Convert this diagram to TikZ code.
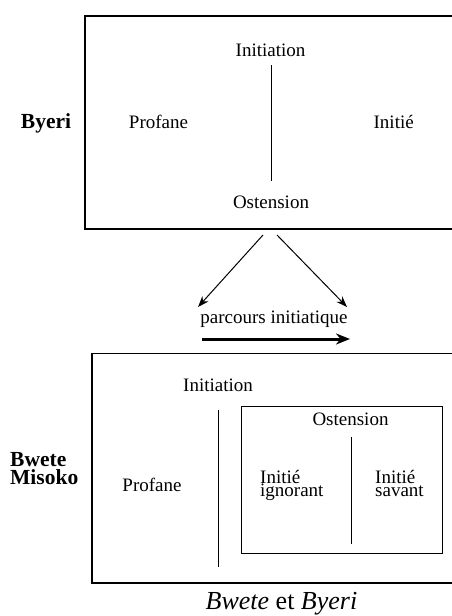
\documentclass[tikz,border=0pt]{standalone}
\usepackage{fontspec}
\setmainfont{Liberation Serif}
\usetikzlibrary{arrows.meta}
\begin{document}
\begin{tikzpicture}[x=1pt,y=-1pt,
  txt/.style={font=\fontsize{19}{19}\selectfont, inner sep=0pt, anchor=base},
  twoline/.style={font=\fontsize{19}{13.4}\selectfont, inner sep=0pt, align=left, anchor=base west},
  lbl/.style={font=\fontsize{21.5}{18}\selectfont\bfseries, inner sep=0pt},
  frame/.style={line width=1.4pt},
  divider/.style={line width=1.4pt},
  thin arrow/.style={line width=1pt, -{Stealth[length=11pt,width=8pt]}},
  thick arrow/.style={line width=3pt, -{Stealth[length=14pt,width=11pt]}}]
\useasboundingbox (0,0) rectangle (452,616);
% top box
\coordinate (t1) at (452,16);
\coordinate (t2) at (85,16);
\coordinate (t3) at (85,229);
\coordinate (t4) at (452,229);
\draw[frame] (t1) -- (t2) -- (t3) -- (t4);
\node[lbl, anchor=base] (byeri) at (46,128.3) {Byeri};
\node[txt] (init1) at (270.5,56.7) {Initiation};
\node[txt] (prof1) at (158.5,128.3) {Profane};
\node[txt] (initie1) at (393.7,128.3) {Initié};
\node[txt] (ost1) at (271,208) {Ostension};
\coordinate (v1a) at (271.7,65);
\coordinate (v1b) at (271.7,181);
\draw[divider] (v1a) -- (v1b);
% arrows
\coordinate (a1s) at (263,235);
\coordinate (a1e) at (198,307);
\coordinate (a2s) at (277,235);
\coordinate (a2e) at (347,307);
\draw[thin arrow] (a1s) -- (a1e);
\draw[thin arrow] (a2s) -- (a2e);
\node[txt] (parc) at (274,323) {parcours initiatique};
\coordinate (ta) at (202,339);
\coordinate (tb) at (350,339);
\draw[thick arrow] (ta) -- (tb);
% bottom box
\coordinate (b1) at (452,353.5);
\coordinate (b2) at (92,353.5);
\coordinate (b3) at (92,583);
\coordinate (b4) at (452,583);
\draw[frame] (b1) -- (b2) -- (b3) -- (b4);
\node[lbl, align=left, anchor=base west] (bwete) at (10,484) {Bwete\\Misoko};
\node[txt] (init2) at (218,391.7) {Initiation};
\coordinate (v2a) at (218.3,410);
\coordinate (v2b) at (218.3,567);
\draw[divider] (v2a) -- (v2b);
\node[txt] (prof2) at (152,491.7) {Profane};
\node[draw, frame, minimum width=201pt, minimum height=147pt, inner sep=0pt, anchor=north west] (inner) at (241,406) {};
\node[txt] (ost2) at (350.5,425) {Ostension};
\coordinate (v3a) at (351.7,436.7);
\coordinate (v3b) at (351.7,544);
\draw[divider] (v3a) -- (v3b);
\node[twoline] (ig) at (260,496.7) {Initié\\ignorant};
\node[twoline] (sv) at (375,496.7) {Initié\\savant};
% caption
\node[inner sep=0pt, anchor=base, font=\fontsize{26}{26}\selectfont] (cap) at (281.5,609) {\textit{Bwete} et \textit{Byeri}};
\end{tikzpicture}
\end{document}
